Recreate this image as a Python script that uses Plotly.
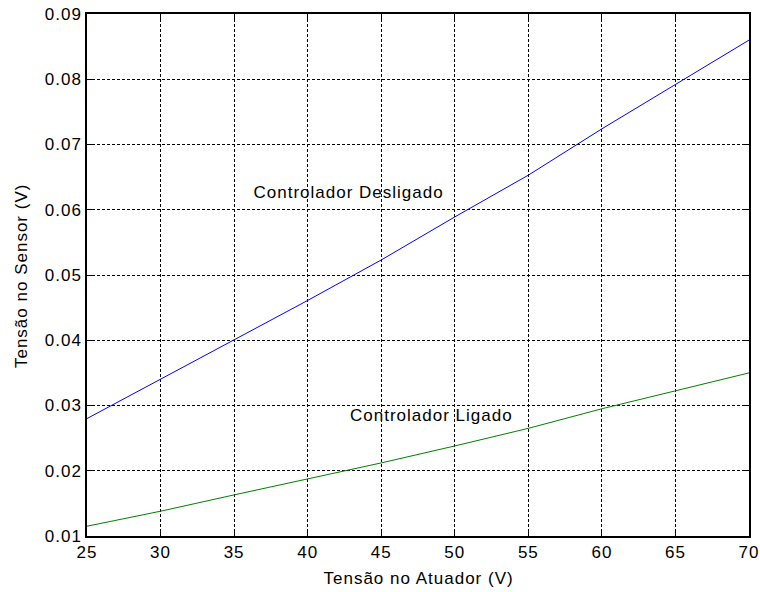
import plotly.graph_objects as go

tensao_atuador = [25, 30, 35, 40, 45, 50, 55, 60, 65, 70]
sensor_desligado = [0.0280, 0.0340, 0.0401, 0.0461, 0.0523, 0.0589, 0.0653, 0.0724, 0.0792, 0.0860]
sensor_ligado = [0.0115, 0.0138, 0.0163, 0.0187, 0.0212, 0.0238, 0.0265, 0.0295, 0.0322, 0.0350]

x_ticks = [25, 30, 35, 40, 45, 50, 55, 60, 65, 70]
y_ticks = [0.01, 0.02, 0.03, 0.04, 0.05, 0.06, 0.07, 0.08, 0.09]

FONT = "Liberation Sans, Arial, sans-serif"
FS = 17

fig = go.Figure()
fig.add_trace(go.Scatter(x=tensao_atuador, y=sensor_desligado, mode="lines",
                         line=dict(color="#0000FF", width=1), showlegend=False,
                         hoverinfo="skip"))
fig.add_trace(go.Scatter(x=tensao_atuador, y=sensor_ligado, mode="lines",
                         line=dict(color="#008000", width=1), showlegend=False,
                         hoverinfo="skip"))

fig.add_annotation(x=42.8, y=0.0626, text="Controlador Desligado", showarrow=False,
                   font=dict(family=FONT, size=FS, color="black"))
fig.add_annotation(x=48.4, y=0.0284, text="Controlador Ligado", showarrow=False,
                   font=dict(family=FONT, size=FS, color="black"))

# axis titles as annotations for exact placement
fig.add_annotation(xref="paper", yref="paper", x=0.5, y=0, yshift=-42,
                   text="Tensão no Atuador (V)", showarrow=False,
                   xanchor="center", yanchor="middle",
                   font=dict(family=FONT, size=FS, color="black"))
fig.add_annotation(xref="paper", yref="paper", x=0, y=0.498, xshift=-66,
                   text="Tensão no Sensor (V)", showarrow=False, textangle=-90,
                   xanchor="center", yanchor="middle",
                   font=dict(family=FONT, size=FS, color="black"))

axis_common = dict(
    showline=True, linecolor="black", linewidth=1.5, mirror="ticks",
    ticks="inside", ticklen=5, tickcolor="black", tickwidth=1,
    showgrid=True, gridcolor="black", gridwidth=1, griddash="3px,2px",
    zeroline=False, automargin=False,
    tickfont=dict(family=FONT, size=FS, color="black"),
)

fig.update_xaxes(range=[25, 70], tickvals=x_ticks, ticktext=[str(v) for v in x_ticks],
                 **axis_common)
fig.update_yaxes(range=[0.01, 0.09], tickvals=y_ticks, ticktext=[f"{v:.2f}" for v in y_ticks],
                 **axis_common)

fig.update_layout(
    width=760, height=592,
    margin=dict(l=87, r=11, t=14, b=56),
    paper_bgcolor="white", plot_bgcolor="white",
)

post = """
document.body.style.margin = '0';
document.body.style.padding = '0';
var gd = document.getElementById('{plot_id}');
gd.querySelectorAll('text').forEach(function(t){ t.style.letterSpacing = '1px'; });
"""
fig.write_html("out.html", post_script=post, config={"displayModeBar": False})
